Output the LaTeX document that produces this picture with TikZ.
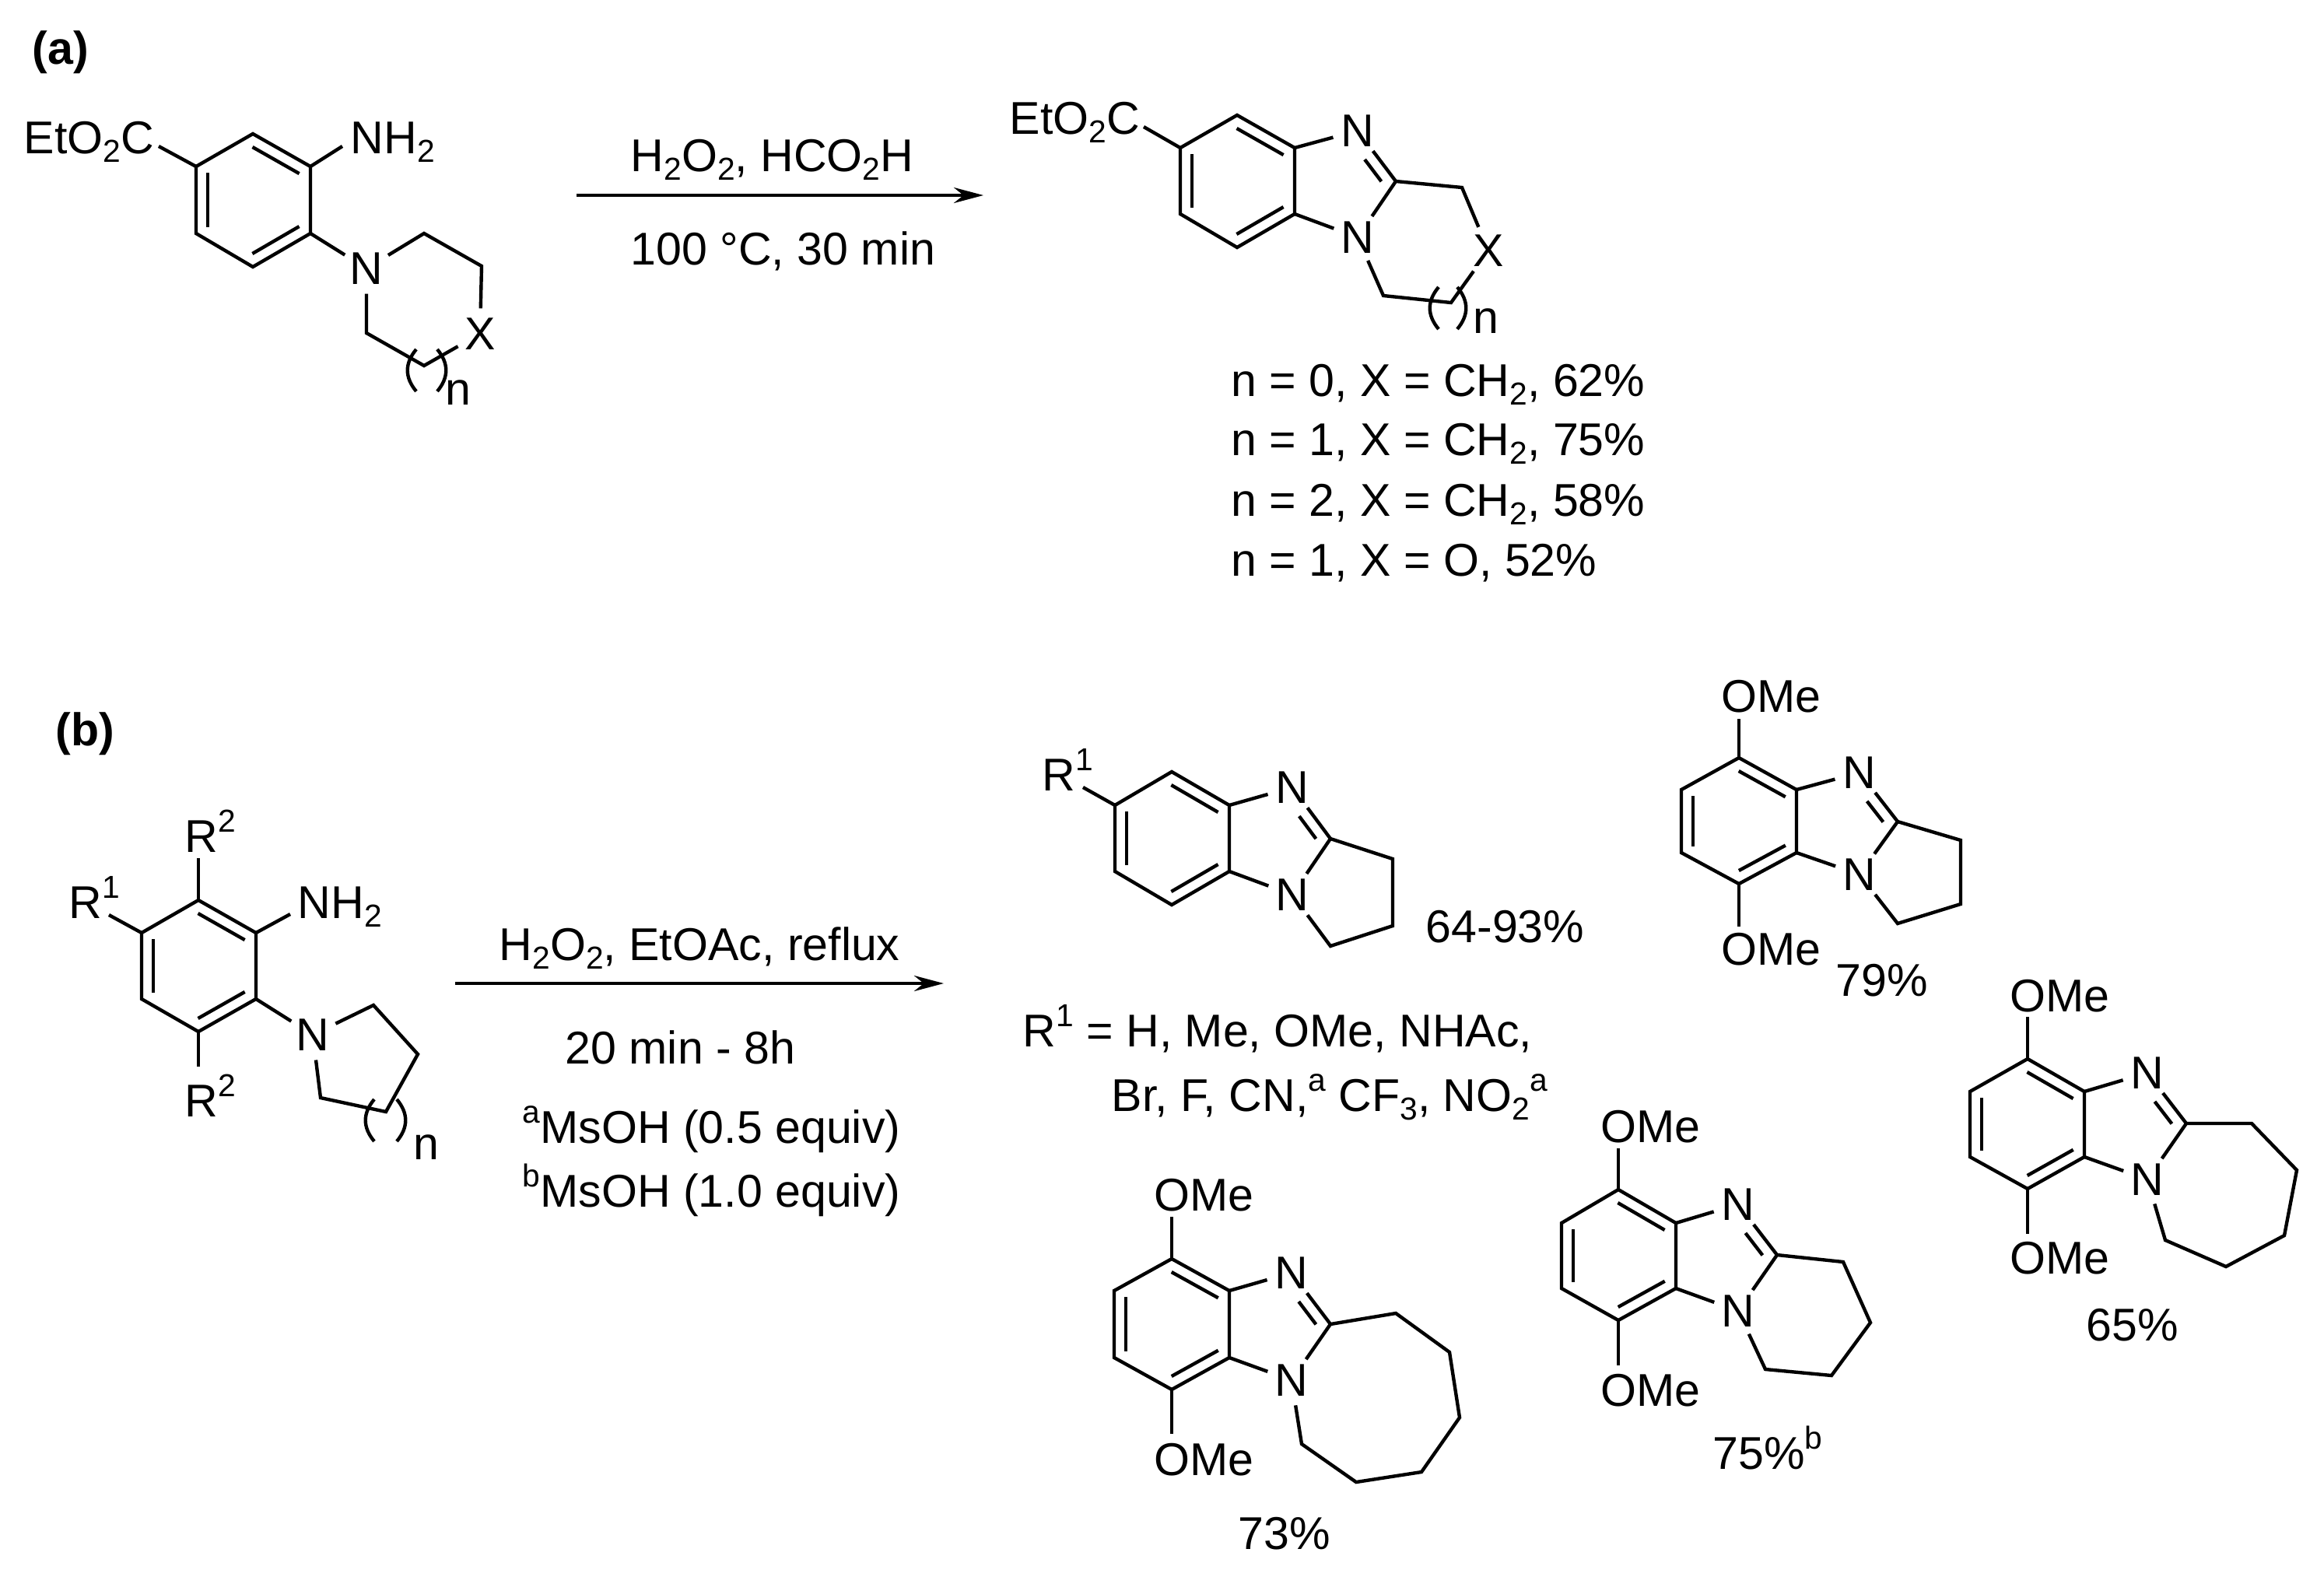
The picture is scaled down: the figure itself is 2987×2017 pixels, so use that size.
\documentclass[tikz,border=0pt]{standalone}
\usepackage{fontspec}
\setmainfont{Liberation Sans}
\usetikzlibrary{calc, arrows.meta}

\newcommand{\chdn}[1]{\raisebox{-0.2em}{\fontsize{11.6}{12}\selectfont #1}}
\newcommand{\chup}[1]{\raisebox{0.44em}{\fontsize{11.6}{12}\selectfont #1}}
\tikzset{
    bond/.style={line width=1.25pt},
    innerbond/.style={bond, shorten <=0.08cm, shorten >=0.08cm},
    iminebond/.style={shorten <=0.11cm, shorten >=0.35cm},
    rxn/.style={line width=1.25pt, -{Stealth[length=0.38cm, width=0.2cm]}},
    atom/.style={circle, inner sep=0pt, minimum size=0.64cm},
    lab/.style={anchor=base west, inner sep=0pt},
    every node/.style={font=\fontsize{16.8}{19}\selectfont}
}
% second line of a double bond, on the left of the way from #2 to #3
\newcommand{\inbond}[3][]{\draw[innerbond, #1] ($(#2)!0.15cm!90:(#3)$) -- ($(#3)!0.15cm!-90:(#2)$);}
% six-membered ring from the corners <prefix>1..6
\newcommand{\benzring}[1]{
    \draw[bond] (#11) -- (#12) -- (#13) -- (#14) -- (#15) -- (#16) -- cycle;
    \inbond{#12}{#11}
    \inbond{#16}{#15}
    \inbond{#14}{#13}
}
\newcommand{\chainparens}[3]{
    \draw[bond] (#1,#3) .. controls +(-15,18) and +(-15,-18) .. (#1,#3+54);
    \draw[bond] (#2,#3) .. controls +(15,18) and +(15,-18) .. (#2,#3+54);
}

\begin{document}
\begin{tikzpicture}[x=0.01cm, y=-0.01cm]
    \useasboundingbox (0,0) rectangle (2987,2017);

    \node[lab] (alabel) at (41,82) {\textbf{(a)}};
    \node[lab] (blabel) at (71,958) {\textbf{(b)}};

    % (a) starting material
    \coordinate (sa1) at (325,172);
    \coordinate (sa2) at (399,214);
    \coordinate (sa3) at (399,300);
    \coordinate (sa4) at (325,343);
    \coordinate (sa5) at (252,300);
    \coordinate (sa6) at (252,214);
    \coordinate (sae) at (204,188);
    \coordinate (sah) at (440,188);
    \coordinate (sac) at (545,300);
    \coordinate (sad) at (619,342);
    \coordinate (saf) at (545,470);
    \coordinate (sag) at (471,428);
    \node[atom] (san) at (471,345) {N};
    \node[atom] (sax) at (617,429) {X};
    \node[lab] (saester) at (30,197) {EtO\chdn{2}C};
    \node[lab] (saamine) at (450,197) {NH\chdn{2}};
    \node[lab] (sacount) at (572,520) {n};
    \benzring{sa}
    \draw[bond] (sa6) -- (sae);
    \draw[bond] (sa2) -- (sah);
    \draw[bond] (sa3) -- (san);
    \draw[bond] (san) -- (sac) -- (sad) -- (sax);
    \draw[bond] (sax) -- (saf) -- (sag) -- (san);
    \chainparens{535}{562}{449}

    % (a) arrow
    \coordinate (afrom) at (741,251);
    \coordinate (ato) at (1264,251);
    \draw[rxn] (afrom) -- (ato);
    \node[lab] (acond) at (810,220) {H\chdn{2}O\chdn{2}, HCO\chdn{2}H};
    \node[lab] (atemp) at (810,340) {100 °C, 30 min};

    % (a) product
    \coordinate (pa1) at (1590,148);
    \coordinate (pa2) at (1664,190);
    \coordinate (pa3) at (1664,275);
    \coordinate (pa4) at (1590,318);
    \coordinate (pa5) at (1517,275);
    \coordinate (pa6) at (1517,190);
    \coordinate (pae) at (1470,163);
    \coordinate (pac) at (1794,233);
    \coordinate (pad) at (1879,241);
    \coordinate (paf) at (1865,389);
    \coordinate (pag) at (1778,380);
    \node[atom] (pan) at (1745,168) {N};
    \node[atom] (pam) at (1745,305) {N};
    \node[atom] (pax) at (1913,322) {X};
    \node[lab] (paester) at (1297,172) {EtO\chdn{2}C};
    \node[lab] (pacount) at (1893,428) {n};
    \benzring{pa}
    \draw[bond] (pa6) -- (pae);
    \draw[bond] (pa2) -- (pan);
    \draw[bond] (pa3) -- (pam);
    \draw[bond] (pac) -- (pan);
    \inbond[iminebond]{pac}{pan}
    \draw[bond] (pac) -- (pam);
    \draw[bond] (pac) -- (pad) -- (pax);
    \draw[bond] (pax) -- (paf) -- (pag) -- (pam);
    \chainparens{1849}{1873}{369}
    \node[lab] (paone) at (1582,509) {n = 0, X = CH\chdn{2}, 62\%};
    \node[lab] (patwo) at (1582,585) {n = 1, X = CH\chdn{2}, 75\%};
    \node[lab] (pathree) at (1582,663) {n = 2, X = CH\chdn{2}, 58\%};
    \node[lab] (pafour) at (1582,740) {n = 1, X = O, 52\%};

    % (b) starting material
    \coordinate (sb1) at (255,1157);
    \coordinate (sb2) at (329,1199);
    \coordinate (sb3) at (329,1284);
    \coordinate (sb4) at (255,1326);
    \coordinate (sb5) at (182,1284);
    \coordinate (sb6) at (182,1199);
    \coordinate (sbt) at (255,1103);
    \coordinate (sbb) at (255,1371);
    \coordinate (sbr) at (140,1176);
    \coordinate (sbh) at (373,1175);
    \coordinate (sbc) at (480,1292);
    \coordinate (sbd) at (537,1355);
    \coordinate (sbe) at (496,1429);
    \coordinate (sbf) at (412,1411);
    \node[atom] (sbn) at (402,1330) {N};
    \node[lab] (sbrtop) at (237,1095) {R\chup{2}};
    \node[lab] (sbrbot) at (237,1435) {R\chup{2}};
    \node[lab] (sbrone) at (88,1180) {R\chup{1}};
    \node[lab] (sbamine) at (382,1180) {NH\chdn{2}};
    \node[lab] (sbcount) at (531,1490) {n};
    \benzring{sb}
    \draw[bond] (sb1) -- (sbt);
    \draw[bond] (sb4) -- (sbb);
    \draw[bond] (sb6) -- (sbr);
    \draw[bond] (sb2) -- (sbh);
    \draw[bond] (sb3) -- (sbn);
    \draw[bond] (sbn) -- (sbc) -- (sbd) -- (sbe) -- (sbf) -- (sbn);
    \chainparens{481}{510}{1413}

    % (b) arrow
    \coordinate (bfrom) at (585,1264);
    \coordinate (bto) at (1213,1264);
    \draw[rxn] (bfrom) -- (bto);
    \node[lab] (bcond) at (641,1234) {H\chdn{2}O\chdn{2}, EtOAc, reflux};
    \node[lab] (btime) at (726,1367) {20 min - 8h};
    \node[lab] (bacida) at (671,1469) {\chup{a}MsOH (0.5 equiv)};
    \node[lab] (bacidb) at (671,1551) {\chup{b}MsOH (1.0 equiv)};

    % (b) R1 product
    \coordinate (pb1) at (1506,992);
    \coordinate (pb2) at (1580,1035);
    \coordinate (pb3) at (1580,1120);
    \coordinate (pb4) at (1506,1163);
    \coordinate (pb5) at (1433,1120);
    \coordinate (pb6) at (1433,1035);
    \coordinate (pbr) at (1392,1012);
    \coordinate (pbc) at (1710,1078);
    \coordinate (pbd) at (1790,1104);
    \coordinate (pbe) at (1790,1190);
    \coordinate (pbf) at (1710,1216);
    \node[atom] (pbn) at (1661,1012) {N};
    \node[atom] (pbm) at (1661,1150) {N};
    \node[lab] (pbrone) at (1339,1016) {R\chup{1}};
    \node[lab] (pbyield) at (1832,1211) {64-93\%};
    \benzring{pb}
    \draw[bond] (pb6) -- (pbr);
    \draw[bond] (pb2) -- (pbn);
    \draw[bond] (pb3) -- (pbm);
    \draw[bond] (pbc) -- (pbn);
    \inbond[iminebond]{pbc}{pbn}
    \draw[bond] (pbc) -- (pbm);
    \draw[bond] (pbc) -- (pbd) -- (pbe) -- (pbf) -- (pbm);
    \node[lab] (pblistone) at (1314,1345) {R\chup{1} = H, Me, OMe, NHAc,};
    \node[lab] (pblisttwo) at (1428,1428) {Br, F, CN,\chup{a} CF\chdn{3}, NO\chdn{2}\chup{a}};

    % (b) five-membered ring, 79%
    \coordinate (qa1) at (2235,974);
    \coordinate (qa2) at (2309,1015);
    \coordinate (qa3) at (2309,1096);
    \coordinate (qa4) at (2235,1136);
    \coordinate (qa5) at (2161,1096);
    \coordinate (qa6) at (2161,1015);
    \coordinate (qat) at (2235,924);
    \coordinate (qab) at (2235,1191);
    \coordinate (qac) at (2439,1056);
    \coordinate (qad) at (2520,1080);
    \coordinate (qae) at (2520,1162);
    \coordinate (qaf) at (2439,1187);
    \node[atom] (qan) at (2390,993) {N};
    \node[atom] (qam) at (2390,1124) {N};
    \node[lab] (qatop) at (2212,915) {OMe};
    \node[lab] (qabot) at (2212,1240) {OMe};
    \node[lab] (qayield) at (2359,1280) {79\%};
    \benzring{qa}
    \draw[bond] (qa1) -- (qat);
    \draw[bond] (qa4) -- (qab);
    \draw[bond] (qa2) -- (qan);
    \draw[bond] (qa3) -- (qam);
    \draw[bond] (qac) -- (qan);
    \inbond[iminebond]{qac}{qan}
    \draw[bond] (qac) -- (qam);
    \draw[bond] (qac) -- (qad) -- (qae) -- (qaf) -- (qam);

    % (b) seven-membered ring, 65%
    \coordinate (qb1) at (2606,1361);
    \coordinate (qb2) at (2679,1403);
    \coordinate (qb3) at (2679,1487);
    \coordinate (qb4) at (2606,1528);
    \coordinate (qb5) at (2532,1487);
    \coordinate (qb6) at (2532,1403);
    \coordinate (qbt) at (2606,1307);
    \coordinate (qbb) at (2606,1586);
    \coordinate (qbc) at (2810,1444);
    \coordinate (qbd) at (2894,1444);
    \coordinate (qbe) at (2952,1504);
    \coordinate (qbf) at (2936,1588);
    \coordinate (qbg) at (2861,1628);
    \coordinate (qbh) at (2783,1594);
    \node[atom] (qbn) at (2760,1379) {N};
    \node[atom] (qbm) at (2760,1516) {N};
    \node[lab] (qbtop) at (2583,1300) {OMe};
    \node[lab] (qbbot) at (2583,1637) {OMe};
    \node[lab] (qbyield) at (2681,1723) {65\%};
    \benzring{qb}
    \draw[bond] (qb1) -- (qbt);
    \draw[bond] (qb4) -- (qbb);
    \draw[bond] (qb2) -- (qbn);
    \draw[bond] (qb3) -- (qbm);
    \draw[bond] (qbc) -- (qbn);
    \inbond[iminebond]{qbc}{qbn}
    \draw[bond] (qbc) -- (qbm);
    \draw[bond] (qbc) -- (qbd) -- (qbe) -- (qbf) -- (qbg) -- (qbh) -- (qbm);

    % (b) six-membered ring, 75%
    \coordinate (qc1) at (2080,1529);
    \coordinate (qc2) at (2154,1572);
    \coordinate (qc3) at (2154,1656);
    \coordinate (qc4) at (2080,1697);
    \coordinate (qc5) at (2007,1656);
    \coordinate (qc6) at (2007,1572);
    \coordinate (qct) at (2080,1476);
    \coordinate (qcb) at (2080,1755);
    \coordinate (qcc) at (2284,1613);
    \coordinate (qcd) at (2369,1622);
    \coordinate (qce) at (2404,1700);
    \coordinate (qcf) at (2354,1768);
    \coordinate (qcg) at (2269,1760);
    \node[atom] (qcn) at (2234,1548) {N};
    \node[atom] (qcm) at (2234,1685) {N};
    \node[lab] (qctop) at (2057,1468) {OMe};
    \node[lab] (qcbot) at (2057,1807) {OMe};
    \node[lab] (qcyield) at (2201,1888) {75\%\chup{b}};
    \benzring{qc}
    \draw[bond] (qc1) -- (qct);
    \draw[bond] (qc4) -- (qcb);
    \draw[bond] (qc2) -- (qcn);
    \draw[bond] (qc3) -- (qcm);
    \draw[bond] (qcc) -- (qcn);
    \inbond[iminebond]{qcc}{qcn}
    \draw[bond] (qcc) -- (qcm);
    \draw[bond] (qcc) -- (qcd) -- (qce) -- (qcf) -- (qcg) -- (qcm);

    % (b) eight-membered ring, 73%
    \coordinate (qd1) at (1506,1618);
    \coordinate (qd2) at (1580,1659);
    \coordinate (qd3) at (1580,1745);
    \coordinate (qd4) at (1506,1786);
    \coordinate (qd5) at (1432,1745);
    \coordinate (qd6) at (1432,1659);
    \coordinate (qdt) at (1506,1564);
    \coordinate (qdb) at (1506,1843);
    \coordinate (qdc) at (1710,1702);
    \coordinate (qdd) at (1794,1688);
    \coordinate (qde) at (1863,1738);
    \coordinate (qdf) at (1876,1822);
    \coordinate (qdg) at (1827,1892);
    \coordinate (qdh) at (1743,1905);
    \coordinate (qdi) at (1673,1856);
    \node[atom] (qdn) at (1660,1636) {N};
    \node[atom] (qdm) at (1660,1774) {N};
    \node[lab] (qdtop) at (1483,1556) {OMe};
    \node[lab] (qdbot) at (1483,1896) {OMe};
    \node[lab] (qdyield) at (1591,1991) {73\%};
    \benzring{qd}
    \draw[bond] (qd1) -- (qdt);
    \draw[bond] (qd4) -- (qdb);
    \draw[bond] (qd2) -- (qdn);
    \draw[bond] (qd3) -- (qdm);
    \draw[bond] (qdc) -- (qdn);
    \inbond[iminebond]{qdc}{qdn}
    \draw[bond] (qdc) -- (qdm);
    \draw[bond] (qdc) -- (qdd) -- (qde) -- (qdf) -- (qdg) -- (qdh) -- (qdi) -- (qdm);
\end{tikzpicture}
\end{document}
